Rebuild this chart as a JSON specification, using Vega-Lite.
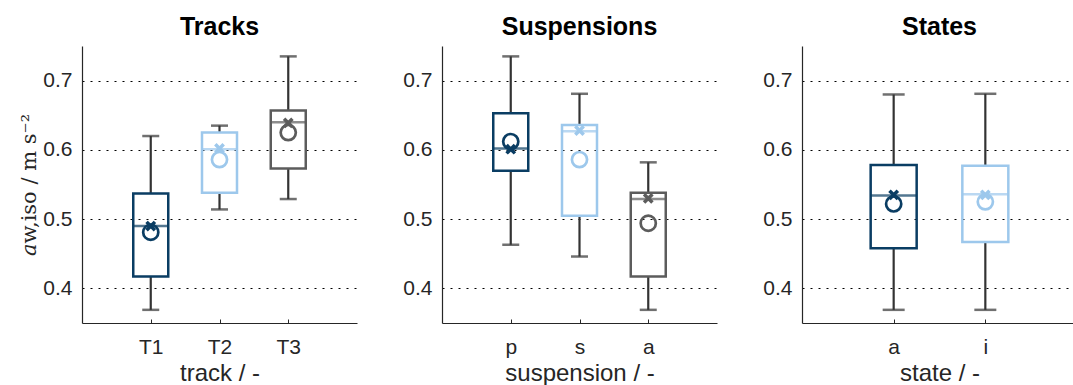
{
  "$schema": "https://vega.github.io/schema/vega-lite/v6.json",
  "background": "white",
  "padding": {"left": 18, "top": 15, "right": 0, "bottom": 0},
  "spacing": 85,
  "bounds": "flush",
  "data": {"name": "boxes"},
  "datasets": {
    "boxes": [
      {"panel": "Tracks", "cat": "T1", "lo": 0.369, "q1": 0.417, "med": 0.490, "q3": 0.537, "hi": 0.620, "mean": 0.490, "circ": 0.481},
      {"panel": "Tracks", "cat": "T2", "lo": 0.514, "q1": 0.538, "med": 0.601, "q3": 0.625, "hi": 0.635, "mean": 0.602, "circ": 0.586},
      {"panel": "Tracks", "cat": "T3", "lo": 0.529, "q1": 0.573, "med": 0.640, "q3": 0.657, "hi": 0.735, "mean": 0.639, "circ": 0.625},
      {"panel": "Suspensions", "cat": "p", "lo": 0.463, "q1": 0.570, "med": 0.602, "q3": 0.653, "hi": 0.735, "mean": 0.601, "circ": 0.612},
      {"panel": "Suspensions", "cat": "s", "lo": 0.446, "q1": 0.505, "med": 0.627, "q3": 0.636, "hi": 0.681, "mean": 0.628, "circ": 0.586},
      {"panel": "Suspensions", "cat": "a", "lo": 0.369, "q1": 0.417, "med": 0.529, "q3": 0.538, "hi": 0.582, "mean": 0.530, "circ": 0.494},
      {"panel": "States", "cat": "a", "lo": 0.369, "q1": 0.458, "med": 0.534, "q3": 0.578, "hi": 0.680, "mean": 0.535, "circ": 0.522},
      {"panel": "States", "cat": "i", "lo": 0.369, "q1": 0.467, "med": 0.536, "q3": 0.577, "hi": 0.681, "mean": 0.535, "circ": 0.525}
    ]
  },
  "resolve": {"scale": {"color": "independent"}},
  "config": {
    "view": {"stroke": null},
    "font": "Liberation Sans",
    "title": {"fontSize": 25, "fontWeight": "bold", "color": "#000000", "font": "Liberation Sans", "offset": 6},
    "axis": {
      "labelFont": "Liberation Sans", "labelFontSize": 21, "labelColor": "#262626",
      "titleFont": "Liberation Sans", "titleFontSize": 24, "titleColor": "#262626", "titleFontWeight": "normal",
      "domainColor": "#262626", "domainWidth": 1.2, "tickColor": "#262626"
    },
    "axisY": {"grid": true, "gridColor": "#000000", "gridDash": [2, 6], "gridWidth": 1.2, "ticks": false, "labelPadding": 10, "format": ".1f", "tickCount": 4, "titleFont": "DejaVu Serif", "titleFontSize": 21, "titlePadding": 3},
    "axisX": {"grid": false, "labelAngle": 0, "tickSize": -4, "labelPadding": 17, "titlePadding": 4},
    "point": {"filled": false, "opacity": 1}
  },
  "hconcat": [
    {
      "title": "Tracks",
      "width": 275, "height": 277,
      "transform": [{"filter": "datum.panel === 'Tracks'"}],
      "encoding": {
        "x": {"field": "cat", "type": "nominal", "sort": ["T1", "T2", "T3"], "scale": {"type": "point", "padding": 1}, "title": "track / -"},
        "color": {"field": "cat", "type": "nominal", "scale": {"domain": ["T1", "T2", "T3"], "range": ["#0a3d63", "#9dc8ec", "#5c5c5c"]}, "legend": null}
      },
      "layer": [
        {"mark": {"type": "rule", "strokeWidth": 2.2},
         "encoding": {"color": {"value": "#333333"}, "y": {"field": "lo", "type": "quantitative", "scale": {"domain": [0.35, 0.75], "nice": false, "zero": false}, "title": "𝑎w,iso  /  m s⁻²"}, "y2": {"field": "q1"}}},
        {"mark": {"type": "rule", "strokeWidth": 2.2},
         "encoding": {"color": {"value": "#333333"}, "y": {"field": "q3", "type": "quantitative", "scale": {"domain": [0.35, 0.75], "nice": false, "zero": false}, "title": "𝑎w,iso  /  m s⁻²"}, "y2": {"field": "hi"}}},
        {"mark": {"type": "tick", "thickness": 2.5, "size": 17, "orient": "horizontal"},
         "encoding": {"color": {"value": "#333333"}, "y": {"field": "lo", "type": "quantitative", "scale": {"domain": [0.35, 0.75], "nice": false, "zero": false}, "title": "𝑎w,iso  /  m s⁻²"}}},
        {"mark": {"type": "tick", "thickness": 2.5, "size": 17, "orient": "horizontal"},
         "encoding": {"color": {"value": "#333333"}, "y": {"field": "hi", "type": "quantitative", "scale": {"domain": [0.35, 0.75], "nice": false, "zero": false}, "title": "𝑎w,iso  /  m s⁻²"}}},
        {"mark": {"type": "bar", "filled": false, "strokeWidth": 2.5, "size": 35},
         "encoding": {"y": {"field": "q1", "type": "quantitative", "scale": {"domain": [0.35, 0.75], "nice": false, "zero": false}, "title": "𝑎w,iso  /  m s⁻²"}, "y2": {"field": "q3"}}},
        {"mark": {"type": "tick", "thickness": 2.5, "size": 35, "orient": "horizontal"},
         "encoding": {"y": {"field": "med", "type": "quantitative", "scale": {"domain": [0.35, 0.75], "nice": false, "zero": false}, "title": "𝑎w,iso  /  m s⁻²"}}},
        {"mark": {"type": "point", "shape": "M-1,-1L1,1M1,-1L-1,1", "strokeWidth": 3.5, "size": 70},
         "encoding": {"y": {"field": "mean", "type": "quantitative", "scale": {"domain": [0.35, 0.75], "nice": false, "zero": false}, "title": "𝑎w,iso  /  m s⁻²"}}},
        {"mark": {"type": "point", "shape": "circle", "strokeWidth": 2.7, "size": 230},
         "encoding": {"y": {"field": "circ", "type": "quantitative", "scale": {"domain": [0.35, 0.75], "nice": false, "zero": false}, "title": "𝑎w,iso  /  m s⁻²"}}}
      ]
    },
    {
      "title": "Suspensions",
      "width": 275, "height": 277,
      "transform": [{"filter": "datum.panel === 'Suspensions'"}],
      "encoding": {
        "x": {"field": "cat", "type": "nominal", "sort": ["p", "s", "a"], "scale": {"type": "point", "padding": 1}, "title": "suspension / -"},
        "color": {"field": "cat", "type": "nominal", "scale": {"domain": ["p", "s", "a"], "range": ["#0a3d63", "#9dc8ec", "#5c5c5c"]}, "legend": null}
      },
      "layer": [
        {"mark": {"type": "rule", "strokeWidth": 2.2},
         "encoding": {"color": {"value": "#333333"}, "y": {"field": "lo", "type": "quantitative", "scale": {"domain": [0.35, 0.75], "nice": false, "zero": false}, "title": null}, "y2": {"field": "q1"}}},
        {"mark": {"type": "rule", "strokeWidth": 2.2},
         "encoding": {"color": {"value": "#333333"}, "y": {"field": "q3", "type": "quantitative", "scale": {"domain": [0.35, 0.75], "nice": false, "zero": false}, "title": null}, "y2": {"field": "hi"}}},
        {"mark": {"type": "tick", "thickness": 2.5, "size": 17, "orient": "horizontal"},
         "encoding": {"color": {"value": "#333333"}, "y": {"field": "lo", "type": "quantitative", "scale": {"domain": [0.35, 0.75], "nice": false, "zero": false}, "title": null}}},
        {"mark": {"type": "tick", "thickness": 2.5, "size": 17, "orient": "horizontal"},
         "encoding": {"color": {"value": "#333333"}, "y": {"field": "hi", "type": "quantitative", "scale": {"domain": [0.35, 0.75], "nice": false, "zero": false}, "title": null}}},
        {"mark": {"type": "bar", "filled": false, "strokeWidth": 2.5, "size": 35},
         "encoding": {"y": {"field": "q1", "type": "quantitative", "scale": {"domain": [0.35, 0.75], "nice": false, "zero": false}, "title": null}, "y2": {"field": "q3"}}},
        {"mark": {"type": "tick", "thickness": 2.5, "size": 35, "orient": "horizontal"},
         "encoding": {"y": {"field": "med", "type": "quantitative", "scale": {"domain": [0.35, 0.75], "nice": false, "zero": false}, "title": null}}},
        {"mark": {"type": "point", "shape": "M-1,-1L1,1M1,-1L-1,1", "strokeWidth": 3.5, "size": 70},
         "encoding": {"y": {"field": "mean", "type": "quantitative", "scale": {"domain": [0.35, 0.75], "nice": false, "zero": false}, "title": null}}},
        {"mark": {"type": "point", "shape": "circle", "strokeWidth": 2.7, "size": 230},
         "encoding": {"y": {"field": "circ", "type": "quantitative", "scale": {"domain": [0.35, 0.75], "nice": false, "zero": false}, "title": null}}}
      ]
    },
    {
      "title": "States",
      "width": 275, "height": 277,
      "transform": [{"filter": "datum.panel === 'States'"}],
      "encoding": {
        "x": {"field": "cat", "type": "nominal", "sort": ["a", "i"], "scale": {"type": "point", "padding": 1}, "title": "state / -"},
        "color": {"field": "cat", "type": "nominal", "scale": {"domain": ["a", "i"], "range": ["#0a3d63", "#9dc8ec"]}, "legend": null}
      },
      "layer": [
        {"mark": {"type": "rule", "strokeWidth": 2.2},
         "encoding": {"color": {"value": "#333333"}, "y": {"field": "lo", "type": "quantitative", "scale": {"domain": [0.35, 0.75], "nice": false, "zero": false}, "title": null}, "y2": {"field": "q1"}}},
        {"mark": {"type": "rule", "strokeWidth": 2.2},
         "encoding": {"color": {"value": "#333333"}, "y": {"field": "q3", "type": "quantitative", "scale": {"domain": [0.35, 0.75], "nice": false, "zero": false}, "title": null}, "y2": {"field": "hi"}}},
        {"mark": {"type": "tick", "thickness": 2.5, "size": 22, "orient": "horizontal"},
         "encoding": {"color": {"value": "#333333"}, "y": {"field": "lo", "type": "quantitative", "scale": {"domain": [0.35, 0.75], "nice": false, "zero": false}, "title": null}}},
        {"mark": {"type": "tick", "thickness": 2.5, "size": 22, "orient": "horizontal"},
         "encoding": {"color": {"value": "#333333"}, "y": {"field": "hi", "type": "quantitative", "scale": {"domain": [0.35, 0.75], "nice": false, "zero": false}, "title": null}}},
        {"mark": {"type": "bar", "filled": false, "strokeWidth": 2.5, "size": 46},
         "encoding": {"y": {"field": "q1", "type": "quantitative", "scale": {"domain": [0.35, 0.75], "nice": false, "zero": false}, "title": null}, "y2": {"field": "q3"}}},
        {"mark": {"type": "tick", "thickness": 2.5, "size": 46, "orient": "horizontal"},
         "encoding": {"y": {"field": "med", "type": "quantitative", "scale": {"domain": [0.35, 0.75], "nice": false, "zero": false}, "title": null}}},
        {"mark": {"type": "point", "shape": "M-1,-1L1,1M1,-1L-1,1", "strokeWidth": 3.5, "size": 70},
         "encoding": {"y": {"field": "mean", "type": "quantitative", "scale": {"domain": [0.35, 0.75], "nice": false, "zero": false}, "title": null}}},
        {"mark": {"type": "point", "shape": "circle", "strokeWidth": 2.7, "size": 230},
         "encoding": {"y": {"field": "circ", "type": "quantitative", "scale": {"domain": [0.35, 0.75], "nice": false, "zero": false}, "title": null}}}
      ]
    }
  ]
}
